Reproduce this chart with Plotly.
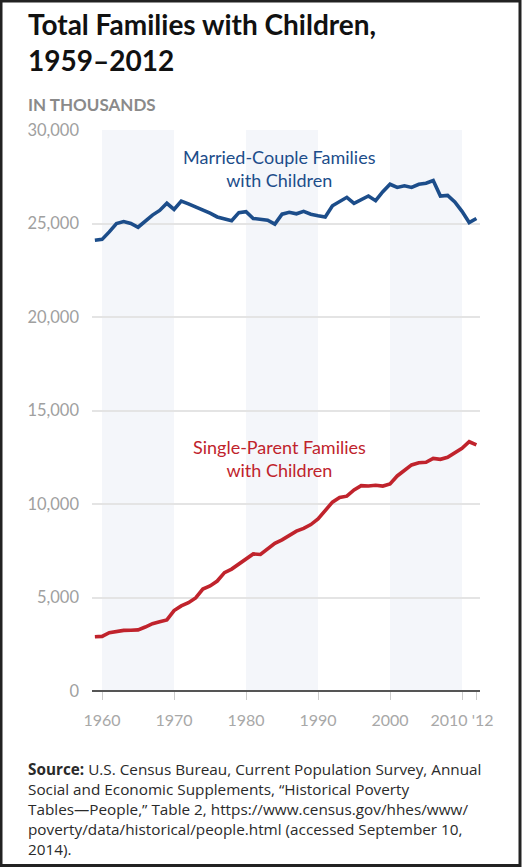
import plotly.graph_objects as go

years = list(range(1959, 2013))

married = [24100, 24150, 24550, 25000, 25100, 25000, 24800, 25150, 25450, 25700,
           26080, 25750, 26200, 26050, 25900, 25750, 25550, 25350, 25250, 25150,
           25580, 25630, 25270, 25240, 25180, 24970, 25500, 25600, 25520, 25650,
           25500, 25420, 25350, 25950, 26150, 26400, 26080, 26250, 26470, 26220,
           26700, 27100, 26930, 27020, 26930, 27100, 27150, 27300, 26470, 26500,
           26150, 25650, 25050, 25270]

single = [2900, 2920, 3120, 3200, 3240, 3250, 3270, 3420, 3600, 3700,
          3800, 4300, 4550, 4720, 4980, 5450, 5620, 5880, 6330, 6520,
          6800, 7100, 7330, 7300, 7600, 7900, 8080, 8300, 8550, 8700,
          8900, 9200, 9620, 10100, 10350, 10420, 10750, 10980, 10960, 11000,
          10960, 11070, 11500, 11780, 12090, 12210, 12230, 12440, 12390, 12500,
          12750, 12980, 13330, 13160]

x_tickvals = [1960, 1970, 1980, 1990, 2000, 2010, 2012]
x_ticktext = ["1960", "1970", "1980", "1990", "2000", "2010 '12", ""]
y_tickvals = [0, 5000, 10000, 15000, 20000, 25000, 30000]
y_ticktext = ["0", "5,000", "10,000", "15,000", "20,000", "25,000", "30,000"]
band_starts = [1960, 1980, 2000]

BLUE = "#1c4d8a"
RED = "#c0232c"
FONT = "Lato"

W, H = 523, 867
L, R, T, B = 92, 43, 130, 176
PW, PH = W - L - R, H - T - B


def px(x):
    return (x - L) / PW


def py(y):
    return (H - B - y) / PH


fig = go.Figure()
fig.add_trace(go.Scatter(x=years, y=married, mode="lines",
                         line=dict(color=BLUE, width=3.6), hoverinfo="skip"))
fig.add_trace(go.Scatter(x=years, y=single, mode="lines",
                         line=dict(color=RED, width=3.6), hoverinfo="skip"))

shapes = []
for s in band_starts:
    shapes.append(dict(type="rect", xref="x", yref="y", x0=s, x1=s + 10, y0=0, y1=30000,
                       fillcolor="#f4f6fa", line=dict(width=0), layer="below"))
# outer frame
shapes.append(dict(type="rect", xref="paper", yref="paper",
                   x0=px(1), x1=px(520), y0=py(1), y1=py(865.5),
                   line=dict(color="#222222", width=3), fillcolor="rgba(0,0,0,0)"))

annotations = [
    dict(xref="paper", yref="paper", x=px(26), y=py(42), xanchor="left", yanchor="middle",
         align="left", showarrow=False,
         text="<b>Total Families with Children,<br>1959–2012</b>",
         font=dict(family=FONT, size=28, color="#111111")),
    dict(xref="paper", yref="paper", x=px(26), y=py(105), xanchor="left", yanchor="middle",
         align="left", showarrow=False, text="<b>IN THOUSANDS</b>",
         font=dict(family=FONT, size=17, color="#8a8a8a")),
    dict(xref="x", yref="y", x=1984.7, y=27940, xanchor="center", yanchor="middle",
         align="center", showarrow=False,
         text="Married-Couple Families<br>with Children",
         font=dict(family=FONT, size=18, color=BLUE)),
    dict(xref="x", yref="y", x=1984.7, y=12460, xanchor="center", yanchor="middle",
         align="center", showarrow=False,
         text="Single-Parent Families<br>with Children",
         font=dict(family=FONT, size=18, color=RED)),
    dict(xref="paper", yref="paper", x=px(26), y=py(809), xanchor="left", yanchor="middle",
         align="left", showarrow=False,
         text=("<b>Source:</b> U.S. Census Bureau, Current Population Survey, Annual<br>"
               "Social and Economic Supplements, “Historical Poverty<br>"
               "Tables—People,” Table 2, https://www.census.gov/hhes/www/<br>"
               "poverty/data/historical/people.html (accessed September 10,<br>"
               "2014)."),
         font=dict(family="Open Sans", size=15.3, color="#2a2a2a")),
]

fig.update_layout(
    width=W, height=H,
    margin=dict(l=L, r=R, t=T, b=B, pad=0),
    paper_bgcolor="white", plot_bgcolor="white",
    showlegend=False,
    shapes=shapes,
    annotations=annotations,
    xaxis=dict(range=[1958.6, 2012.5], tickvals=x_tickvals, ticktext=x_ticktext,
               showgrid=False, zeroline=False, showline=False, tickangle=0,
               ticks="outside", ticklen=8, tickcolor="#cccccc", tickwidth=1,
               ticklabelstandoff=7,
               tickfont=dict(family=FONT, size=16, color="#a8a8a8")),
    yaxis=dict(range=[0, 30000], tickvals=y_tickvals, ticktext=y_ticktext,
               showgrid=True, gridcolor="#e4e4e4", gridwidth=1.5,
               zeroline=True, zerolinecolor="#555555", zerolinewidth=2,
               showline=False, ticks="", ticklabelstandoff=12,
               tickfont=dict(family=FONT, size=16.5, color="#a0a0a0")),
)

fig.write_html("out.html", config={"displayModeBar": False},
               post_script="document.body.style.margin='0';")
